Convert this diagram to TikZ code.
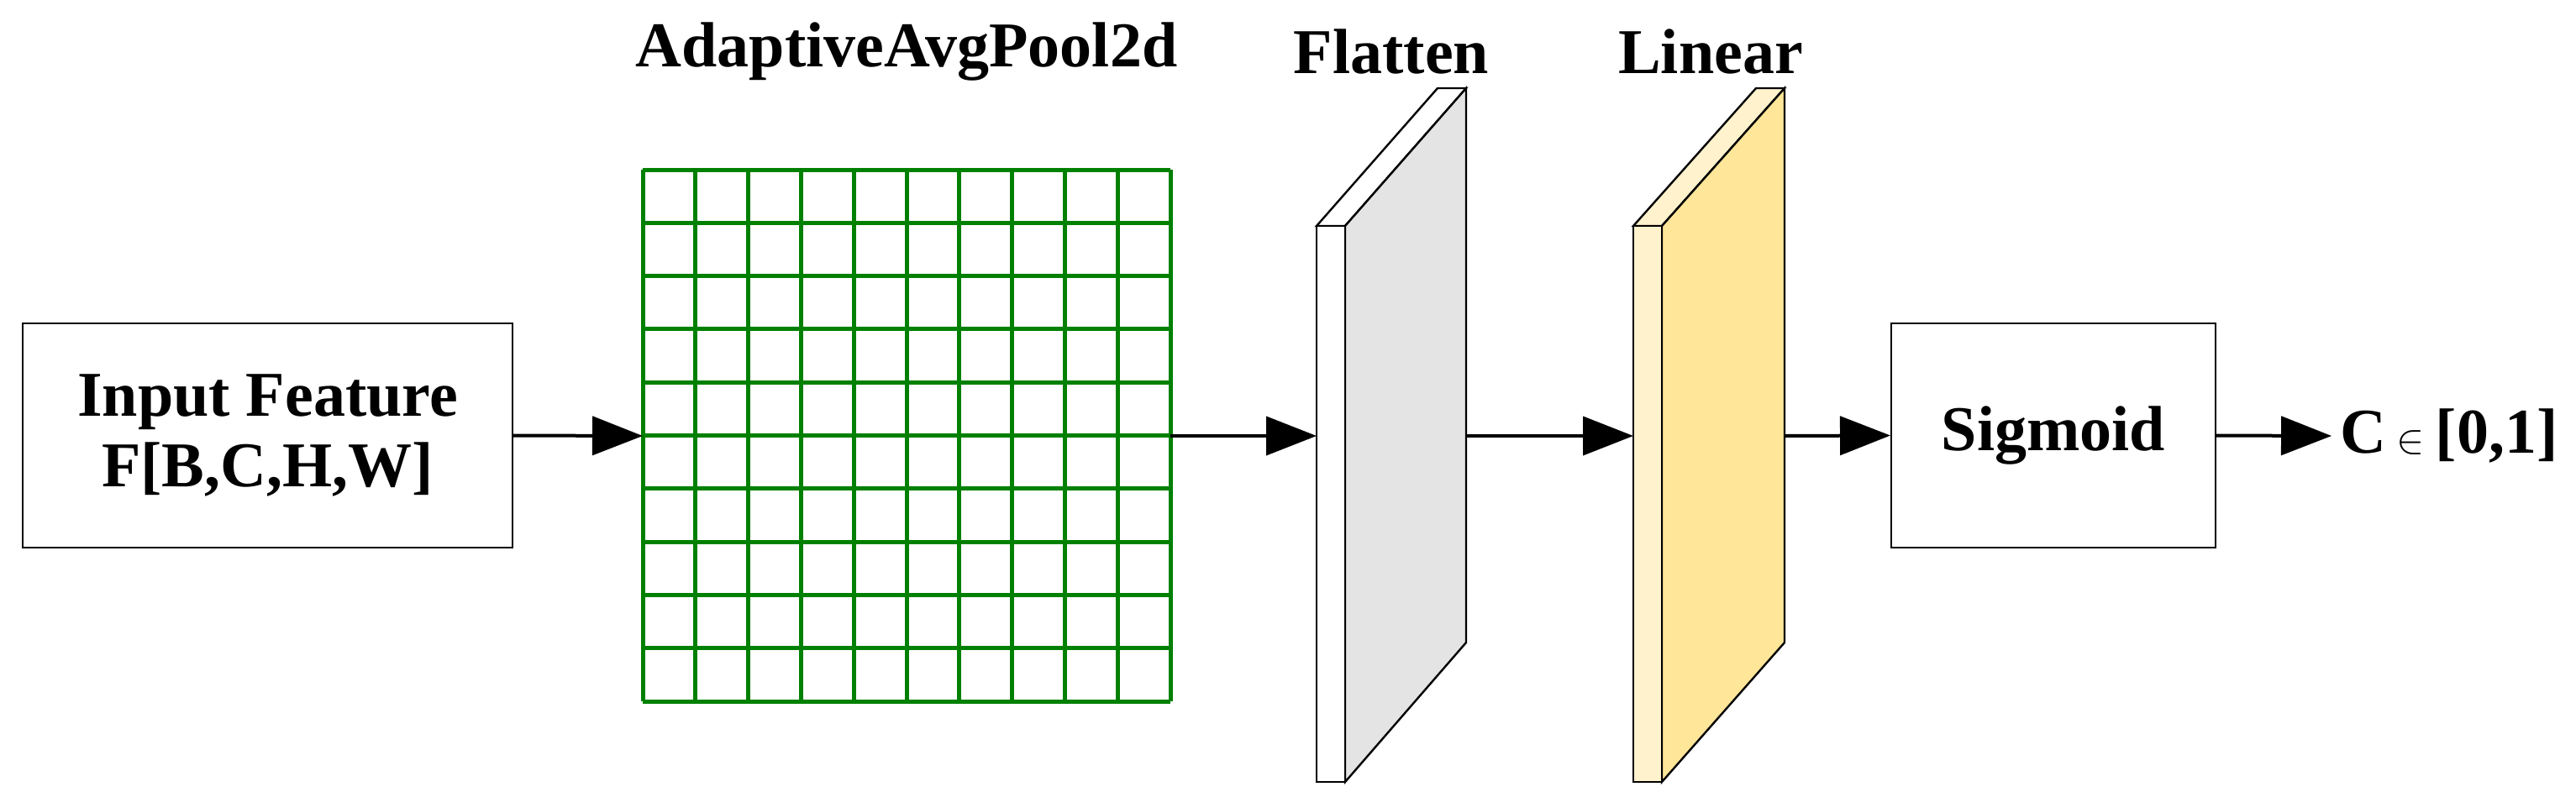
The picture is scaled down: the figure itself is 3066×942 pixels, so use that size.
\documentclass[tikz,border=0pt]{standalone}
\usepackage{amsmath}
\usepackage{fontspec}
\setmainfont{Liberation Serif}
\usetikzlibrary{arrows.meta}
\definecolor{gridgreen}{RGB}{0,128,0}
\definecolor{flatside}{RGB}{228,228,228}
\definecolor{linfront}{RGB}{255,242,204}
\definecolor{linside}{RGB}{255,230,153}
\begin{document}
\begin{tikzpicture}[x=0.5pt,y=-0.5pt,
  lbl/.style={font=\bfseries\fontsize{38}{44}\selectfont},
  box/.style={draw,line width=1pt,minimum width=0pt},
  arr/.style={line width=2pt,-{Triangle[length=30pt,width=23pt]}},
  slab/.style={draw,line width=1.2pt,line join=miter}]
\useasboundingbox (0,0) rectangle (3066,942);
% input box
\node[box,minimum width=291.5pt,minimum height=133.5pt] (in) at (318.5,518.5) {};
\node[lbl,align=center] (intext) at (in.center) {Input Feature\\[-2pt]F[B,C,H,W]};
% grid
\foreach \i in {0,...,10}{
  \draw[gridgreen,line width=2.5pt] ({765+62.8*\i},202) -- ({765+62.8*\i},835);
  \draw[gridgreen,line width=2.5pt] (765,{202+63.3*\i}) -- (1393,{202+63.3*\i});
}
\coordinate (gridR) at (1393,519);
\coordinate (gridL) at (765,519);
\node[lbl] (gtitle) at (1079,62) {AdaptiveAvgPool2d};
% flatten slab
\draw[slab,fill=white] (1567,269) -- (1711,105) -- (1745,105) -- (1601,269) -- cycle;
\draw[slab,fill=flatside] (1601,269) -- (1745,105) -- (1745,765) -- (1601,931) -- cycle;
\draw[slab,fill=white] (1567,269) rectangle (1601,931);
\coordinate (flatL) at (1567,519);
\coordinate (flatR) at (1745,519);
\node[lbl] (ftitle) at (1656,62) {Flatten};
% linear slab
\draw[slab,fill=linfront] (1944,269) -- (2090,105) -- (2124,105) -- (1978,269) -- cycle;
\draw[slab,fill=linside] (1978,269) -- (2124,105) -- (2124,765) -- (1978,931) -- cycle;
\draw[slab,fill=linfront] (1944,269) rectangle (1978,931);
\coordinate (linL) at (1944,519);
\coordinate (linR) at (2124,519);
\node[lbl] (ltitle) at (2036,62) {Linear};
% sigmoid
\node[box,minimum width=193pt,minimum height=133.5pt] (sig) at (2444,518.5) {};
\node[lbl] (sigtext) at (sig.center) {Sigmoid};
\node[lbl,anchor=west,inner sep=0pt] (out) at (2785,519) {C\,{\fontsize{44}{44}\selectfont$\in$}\,[0,1]};
% arrows
\draw[arr] (in.east) -- (gridL);
\draw[arr] (gridR) -- (flatL);
\draw[arr] (flatR) -- (linL);
\draw[arr] (linR) -- (sig.west);
\draw[arr] (sig.east) -- ([xshift=-5pt]out.west);
\end{tikzpicture}
\end{document}
